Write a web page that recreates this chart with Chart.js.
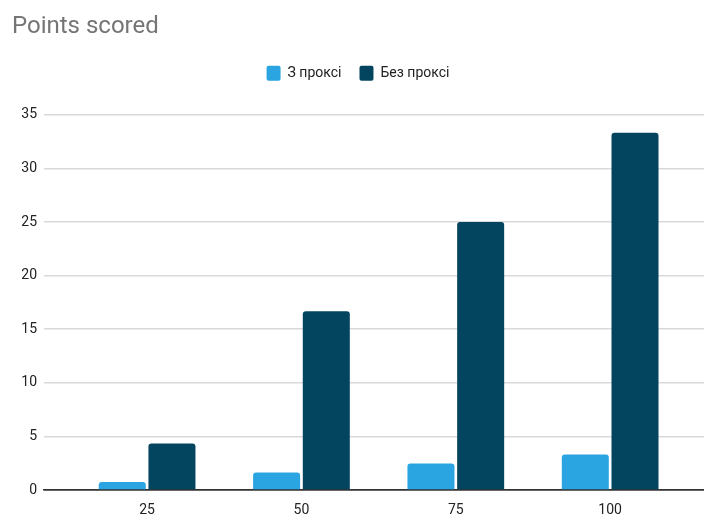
<!DOCTYPE html>
<html lang="uk">
<head>
<meta charset="UTF-8">
<title>Points scored</title>
<style>
  html, body { margin: 0; padding: 0; background: #fff; }
  #wrap { width: 704px; height: 517px; }
</style>
<script src="https://cdn.jsdelivr.net/npm/chart.js"></script>
</head>
<body>
<div id="wrap"><canvas id="pointsChart"></canvas></div>
<script>
// Дані
const rounds = [25, 50, 75, 100];
const withProxy = [0.74, 1.64, 2.48, 3.32];
const withoutProxy = [4.33, 16.67, 25, 33.33];
const seriesNames = ['З проксі', 'Без проксі'];
const yTicks = [0, 5, 10, 15, 20, 25, 30, 35];

const toPoints = values => rounds.map((r, i) => ({ x: r, y: values[i] }));
const font = 'Roboto, "Liberation Sans", Arial, sans-serif';

// додатковий відступ під легендою
const legendGap = {
  id: 'legendGap',
  beforeInit(chart) {
    const fit = chart.legend.fit;
    chart.legend.fit = function () {
      fit.bind(chart.legend)();
      this.height += 24;
    };
  }
};

const ctx = document.getElementById('pointsChart').getContext('2d');
new Chart(ctx, {
  type: 'bar',
  data: {
    datasets: [
      {
        label: seriesNames[0],
        data: toPoints(withProxy),
        backgroundColor: '#2aa5e2',
        borderRadius: { topLeft: 3, topRight: 3 },
        borderSkipped: 'bottom',
        categoryPercentage: 0.644,
        barPercentage: 0.946
      },
      {
        label: seriesNames[1],
        data: toPoints(withoutProxy),
        backgroundColor: '#03445f',
        borderRadius: { topLeft: 3, topRight: 3 },
        borderSkipped: 'bottom',
        categoryPercentage: 0.644,
        barPercentage: 0.946
      }
    ]
  },
  plugins: [legendGap],
  options: {
    responsive: true,
    maintainAspectRatio: false,
    animation: false,
    layout: { padding: { left: 12, right: 0, top: 13, bottom: 0 } },
    plugins: {
      title: {
        display: true,
        text: 'Points scored',
        align: 'start',
        color: '#757575',
        font: { family: font, size: 24, weight: 'normal' },
        padding: { top: 0, bottom: 6 }
      },
      legend: {
        display: true,
        position: 'top',
        labels: {
          color: '#222',
          font: { family: font, size: 14 },
          boxWidth: 14,
          boxHeight: 15,
          useBorderRadius: true,
          borderRadius: 2,
          padding: 18
        }
      },
      tooltip: { enabled: false }
    },
    scales: {
      x: {
        type: 'linear',
        offset: false,
        min: 8.3,
        max: 115.2,
        afterBuildTicks: scale => { scale.ticks = rounds.map(v => ({ value: v })); },
        afterFit: scale => { scale.height = 27; },
        grid: { display: false, drawTicks: false, offset: false },
        border: { display: true, color: '#333', width: 1.5 },
        ticks: { color: '#222', font: { family: font, size: 14 }, padding: 12, maxRotation: 0 }
      },
      y: {
        min: 0,
        max: 35,
        afterBuildTicks: scale => { scale.ticks = yTicks.map(v => ({ value: v })); },
        afterFit: scale => { scale.width = 32; },
        grid: {
          color: c => (c.tick && c.tick.value === 0 ? '#333' : '#d9d9d9'),
          lineWidth: 1.5,
          drawTicks: false
        },
        border: { display: false },
        ticks: { color: '#222', font: { family: font, size: 14 }, padding: 7 }
      }
    }
  }
});
</script>
</body>
</html>
